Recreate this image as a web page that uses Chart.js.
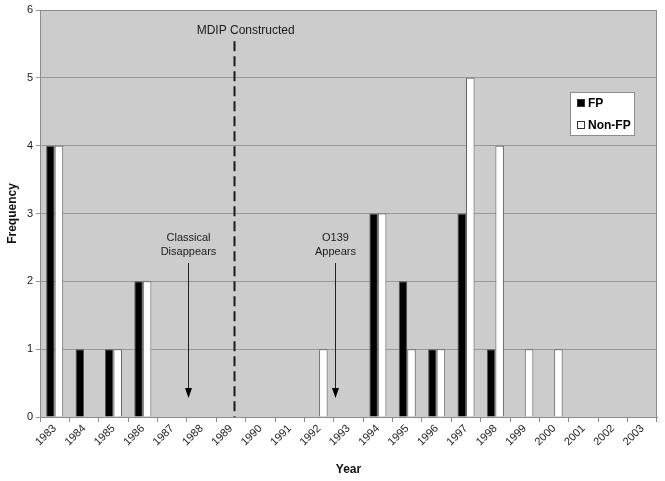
<!DOCTYPE html>
<html>
<head>
<meta charset="utf-8">
<script src="https://cdn.jsdelivr.net/npm/chart.js@4.4.1/dist/chart.umd.min.js"></script>
<style>
  html, body { margin: 0; padding: 0; background: #fff; }
  #wrap { width: 665px; height: 481px; position: relative; }
</style>
</head>
<body>
<div id="wrap"><canvas id="freqChart"></canvas></div>
<script>
// Frequency by year - FP vs Non-FP
const years = ['1983','1984','1985','1986','1987','1988','1989','1990','1991','1992','1993',
               '1994','1995','1996','1997','1998','1999','2000','2001','2002','2003'];
const fpCounts    = [4,1,1,2,0,0,0,0,0,0,0,3,2,1,3,1,0,0,0,0,0];
const nonFpCounts = [4,0,1,2,0,0,0,0,0,1,0,3,1,1,5,4,1,1,0,0,0];
const yTicks = [0,1,2,3,4,5,6];

const FONT = '"Liberation Sans", Arial, sans-serif';

// plot background + frame, annotations, legend box
const decorPlugin = {
  id: 'decor',
  beforeDraw(chart) {
    const { ctx, chartArea: a } = chart;
    ctx.save();
    ctx.fillStyle = '#cccccc';
    ctx.fillRect(a.left, a.top, a.right - a.left, a.bottom - a.top);
    ctx.restore();
  },
  afterDatasetsDraw(chart) {
    const { ctx, chartArea: a, scales: { x, y } } = chart;
    ctx.save();
    ctx.strokeStyle = '#8c8c8c';
    ctx.lineWidth = 1;
    ctx.strokeRect(a.left + 0.5, a.top + 0.5, a.right - a.left - 1, a.bottom - a.top);

    // MDIP constructed dashed line
    const mx = Math.round(x.getPixelForValue(6.1)) + 0.5;
    ctx.strokeStyle = '#1a1a1a';
    ctx.lineWidth = 2;
    ctx.setLineDash([10, 5]);
    ctx.beginPath();
    ctx.moveTo(mx, y.getPixelForValue(5.54));
    ctx.lineTo(mx, a.bottom);
    ctx.stroke();
    ctx.setLineDash([]);
    ctx.fillStyle = '#1a1a1a';
    ctx.font = '12px ' + FONT;
    ctx.textAlign = 'center';
    ctx.textBaseline = 'middle';
    ctx.fillText('MDIP Constructed', x.getPixelForValue(6.5), y.getPixelForValue(5.7));

    // arrows
    const arrows = [
      { at: 4.55, lines: ['Classical', 'Disappears'] },
      { at: 9.55, lines: ['O139', 'Appears'] }
    ];
    ctx.font = '11px ' + FONT;
    arrows.forEach(ar => {
      const ax = Math.round(x.getPixelForValue(ar.at)) + 0.5;
      ctx.fillStyle = '#1a1a1a';
      ctx.fillText(ar.lines[0], ax, y.getPixelForValue(2.64));
      ctx.fillText(ar.lines[1], ax, y.getPixelForValue(2.43));
      const y0 = y.getPixelForValue(2.27), y1 = y.getPixelForValue(0.28);
      ctx.strokeStyle = '#222';
      ctx.lineWidth = 1;
      ctx.beginPath();
      ctx.moveTo(ax, y0);
      ctx.lineTo(ax, y1 - 8);
      ctx.stroke();
      ctx.fillStyle = '#000';
      ctx.beginPath();
      ctx.moveTo(ax - 3.5, y1 - 10);
      ctx.lineTo(ax + 3.5, y1 - 10);
      ctx.lineTo(ax, y1);
      ctx.closePath();
      ctx.fill();
    });

    // legend box
    const lx = 570, ly = 92, lw = 65, lh = 44;
    ctx.fillStyle = '#fff';
    ctx.fillRect(lx, ly, lw, lh);
    ctx.strokeStyle = '#8c8c8c';
    ctx.strokeRect(lx + 0.5, ly + 0.5, lw - 1, lh - 1);
    ctx.font = 'bold 12px ' + FONT;
    ctx.textAlign = 'left';
    chart.data.datasets.forEach((ds, i) => {
      const ry = ly + 11 + i * 22;
      ctx.fillStyle = ds.backgroundColor;
      ctx.fillRect(lx + 7, ry - 4, 8, 8);
      ctx.strokeStyle = '#333';
      ctx.strokeRect(lx + 7.5, ry - 3.5, 7, 7);
      ctx.fillStyle = '#000';
      ctx.fillText(ds.label, lx + 18, ry + 1);
    });
    ctx.restore();
  }
};

new Chart(document.getElementById('freqChart'), {
  type: 'bar',
  data: {
    labels: years,
    datasets: [
      { label: 'FP', data: fpCounts, backgroundColor: '#000000', borderColor: '#555555', borderWidth: 1 },
      { label: 'Non-FP', data: nonFpCounts, backgroundColor: '#ffffff', borderColor: '#666666', borderWidth: 1 }
    ]
  },
  options: {
    responsive: true,
    maintainAspectRatio: false,
    animation: false,
    layout: { padding: { top: 10, right: 8, left: 0, bottom: 0 } },
    datasets: { bar: { categoryPercentage: 0.58, barPercentage: 1.0 } },
    plugins: { legend: { display: false }, tooltip: { enabled: false } },
    scales: {
      x: {
        afterFit: s => { s.height = 64; },
        grid: { drawOnChartArea: false, color: '#888', tickLength: 5, offset: true },
        border: { color: '#8c8c8c' },
        ticks: { minRotation: 45, maxRotation: 45, autoSkip: false, color: '#222', padding: 0,
                 font: { family: FONT, size: 11 } },
        title: { display: true, text: 'Year', color: '#111', padding: { top: 0, bottom: 4 },
                 font: { family: FONT, size: 12, weight: 'bold' } }
      },
      y: {
        min: 0, max: 6,
        afterFit: s => { s.width = 40; },
        afterBuildTicks: s => { s.ticks = yTicks.map(v => ({ value: v })); },
        grid: { color: '#999', tickLength: 4 },
        border: { color: '#8c8c8c' },
        ticks: { color: '#222', padding: 3, font: { family: FONT, size: 11 } },
        title: { display: true, text: 'Frequency', color: '#111', padding: { top: 5, bottom: 0 },
                 font: { family: FONT, size: 12, weight: 'bold' } }
      }
    }
  },
  plugins: [decorPlugin]
});
</script>
</body>
</html>
